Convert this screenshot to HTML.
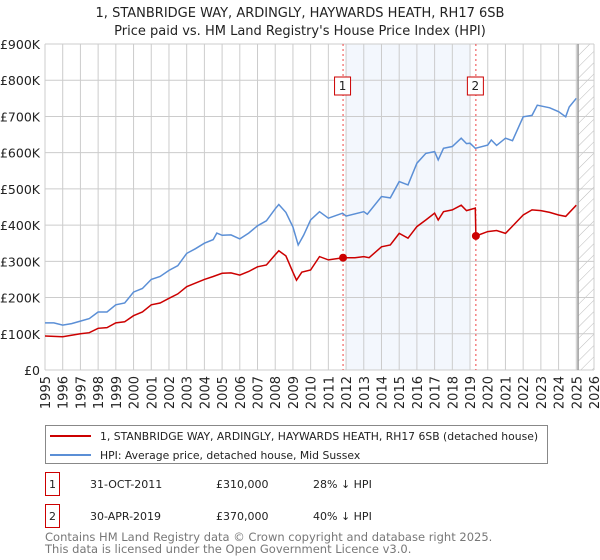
<!DOCTYPE html>
<html><head><meta charset="utf-8"><style>
body{margin:0;background:#fff;font-family:"DejaVu Sans","Liberation Sans",sans-serif;}
#wrap{position:relative;width:600px;height:560px;overflow:hidden;}
svg text{font-family:"DejaVu Sans","Liberation Sans",sans-serif;}
</style></head><body><div id="wrap">
<svg id="chart" width="600" height="560"></svg>
</div>
<script>
const hpiYears=[1995,1995.5,1996,1996.5,1997,1997.5,1998,1998.5,1999,1999.5,2000,2000.5,2001,2001.5,2002,2002.5,2003,2003.5,2004,2004.5,2004.7,2005,2005.5,2006,2006.5,2007,2007.5,2008,2008.2,2008.6,2009,2009.3,2009.6,2010,2010.5,2011,2011.8,2012,2013,2013.2,2014,2014.5,2015,2015.5,2016,2016.5,2017,2017.2,2017.5,2018,2018.5,2018.8,2019,2019.3,2020,2020.2,2020.5,2021,2021.4,2022,2022.5,2022.8,2023.5,2024,2024.4,2024.6,2025];
const hpiValues=[130,130,124,128,135,142,160,160,180,185,215,225,250,258,275,288,322,335,350,360,378,372,373,362,378,398,412,445,457,435,395,345,372,414,437,419,433,425,437,430,479,475,520,511,571,598,603,580,612,617,640,625,626,612,621,635,620,640,633,699,703,731,724,713,699,726,750];
const priceYears=[1995,1996,1997,1997.5,1998,1998.5,1999,1999.5,2000,2000.5,2001,2001.5,2002,2002.5,2003,2003.5,2004,2004.5,2005,2005.5,2006,2006.5,2007,2007.5,2008,2008.2,2008.6,2009,2009.2,2009.5,2010,2010.5,2011,2011.83,2012.5,2013,2013.3,2014,2014.5,2015,2015.5,2016,2016.5,2017,2017.2,2017.5,2018,2018.5,2018.8,2019.3,2019.33,2020,2020.5,2021,2022,2022.5,2023,2023.5,2024,2024.4,2025];
const priceValues=[94,92,100,103,115,117,130,133,150,160,180,185,198,210,230,240,250,258,267,268,262,272,285,290,318,329,315,270,248,270,276,313,304,310,310,313,310,340,345,377,364,396,414,433,414,437,442,455,440,447,370,382,385,377,428,442,440,435,428,424,455];
const sales=[{t:2011.83,v:310,label:"1"},{t:2019.33,v:370,label:"2"}];
const yTicks=[0,100,200,300,400,500,600,700,800,900];
const yTickLabels=["£0","£100K","£200K","£300K","£400K","£500K","£600K","£700K","£800K","£900K"];
const xTicks=[1995,1996,1997,1998,1999,2000,2001,2002,2003,2004,2005,2006,2007,2008,2009,2010,2011,2012,2013,2014,2015,2016,2017,2018,2019,2020,2021,2022,2023,2024,2025,2026];

const L=45,R=594,T=44,B=370;
const x=t=>L+(t-1995)/(2026-1995)*(R-L);
const y=v=>B-v/900*(B-T);
const svg=document.getElementById('chart');
const NS="http://www.w3.org/2000/svg";
function mk(tag,attrs,parent){const e=document.createElementNS(NS,tag);for(const k in attrs)e.setAttribute(k,attrs[k]);(parent||svg).appendChild(e);return e;}

const defs=mk('defs',{});
const pat=mk('pattern',{id:'hatch',width:8,height:8,patternUnits:'userSpaceOnUse',patternTransform:'rotate(45)'},defs);
mk('line',{x1:0,y1:0,x2:0,y2:8,stroke:'#bbb','stroke-width':1},pat);

let e=mk('rect',{x:x(2012),y:T,width:x(2019)-x(2012),height:B-T,fill:'#eef3fc',opacity:0.7});


e=mk('rect',{x:x(2025.1),y:T,width:R-x(2025.1),height:B-T,fill:'url(#hatch)'});



xTicks.forEach(t=>{
  const g=mk('line',{x1:x(t),x2:x(t),y1:T,y2:B,stroke:'#cccccc','stroke-width':1});
  
  
  const tx=mk('text',{x:0,y:0,'font-size':13,fill:'#222','text-anchor':'end',transform:`translate(${x(t)+5},${B+6}) rotate(-90)`});
  tx.textContent=t;
  
  
});
yTicks.forEach((v,i)=>{
  const g=mk('line',{x1:L,x2:R,y1:y(v),y2:y(v),stroke:'#cccccc','stroke-width':1});
  
  
  const tx=mk('text',{x:40,y:y(v)+5,'font-size':12.5,fill:'#222','text-anchor':'end'});
  tx.textContent=yTickLabels[i];
  
  
});
e=mk('line',{x1:x(2025.1),x2:x(2025.1),y1:T,y2:B,stroke:'#999','stroke-width':1.5});



sales.forEach(s=>{
  const l=mk('line',{x1:x(s.t),x2:x(s.t),y1:T,y2:B,stroke:'#ee4444','stroke-width':1,'stroke-dasharray':'2,3'});
  
  
});

function path(xs,vs){return xs.map((t,i)=>(i?'L':'M')+x(t).toFixed(1)+','+y(vs[i]).toFixed(1)).join('');}
e=mk('path',{d:path(hpiYears,hpiValues),fill:'none',stroke:'#5b8fd6','stroke-width':1.5});


e=mk('path',{d:path(priceYears,priceValues),fill:'none',stroke:'#cc0000','stroke-width':1.5});



sales.forEach(s=>{
  const c=mk('circle',{cx:x(s.t),cy:y(s.v),r:4,fill:'#cc0000'});
  
  
  const bx=x(s.t)-8;
  const r=mk('rect',{x:bx-0.5,y:77,width:16,height:18,fill:'#fff',stroke:'#cc0000','stroke-width':1});
  
  
  const t=mk('text',{x:x(s.t)-0.5,y:90,'font-size':12,'text-anchor':'middle',fill:'#222'});
  t.textContent=s.label;
  
  
});

[["1, STANBRIDGE WAY, ARDINGLY, HAYWARDS HEATH, RH17 6SB",17],["Price paid vs. HM Land Registry's House Price Index (HPI)",35]].forEach(([s,yy])=>{
  const t=mk('text',{x:300,y:yy,'font-size':13,'text-anchor':'middle',fill:'#222'});
  t.textContent=s;
  
  
});

e=mk('rect',{x:45.5,y:425.5,width:502,height:38,fill:'#fff',stroke:'#888','stroke-width':1});


[["#cc0000","1, STANBRIDGE WAY, ARDINGLY, HAYWARDS HEATH, RH17 6SB (detached house)",436],["#5b8fd6","HPI: Average price, detached house, Mid Sussex",455]].forEach(([c,s,yy])=>{
  const l=mk('line',{x1:50,x2:91,y1:yy,y2:yy,stroke:c,'stroke-width':2});
  
  
  const t=mk('text',{x:100,y:yy+4,'font-size':10.8,fill:'#222'});
  t.textContent=s;
  
  
});

[["1","31-OCT-2011","£310,000","28% ↓ HPI",484],["2","30-APR-2019","£370,000","40% ↓ HPI",516]].forEach(([n,d,p,h,yy])=>{
  const r=mk('rect',{x:45.5,y:yy-11.5,width:14,height:23,fill:'#fff',stroke:'#cc0000','stroke-width':1});
  
  
  const cols=[[n,52.5,'middle'],[d,90,'start'],[p,216,'start'],[h,313,'start']];
  cols.forEach(([s,xx,a])=>{
    const t=mk('text',{x:xx,y:yy+4,'font-size':11,fill:'#222','text-anchor':a});
    t.textContent=s;
    
    
  });
});
[["Contains HM Land Registry data © Crown copyright and database right 2025.",541],["This data is licensed under the Open Government Licence v3.0.",553]].forEach(([s,yy])=>{
  const t=mk('text',{x:45,y:yy,'font-size':11.5,fill:'#777'});
  t.textContent=s;
  
  
});
</script></body></html>
